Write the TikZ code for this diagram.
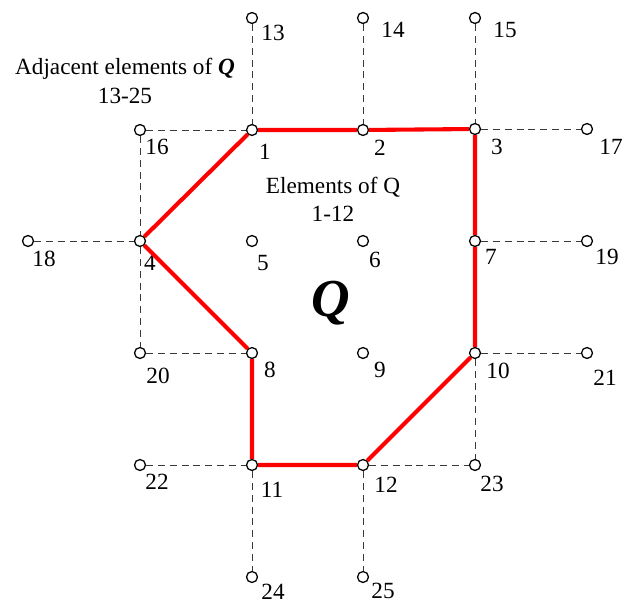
\documentclass[tikz,border=0pt]{standalone}
\usepackage{fontspec}
\setmainfont{Liberation Serif}
\definecolor{bndred}{HTML}{FF0000}
\definecolor{adjedge}{HTML}{3A3A3A}

\begin{document}
\begin{tikzpicture}[x=0.025cm, y=-0.025cm,
  elem/.style={circle, draw=black, line width=0.9pt, fill=white, inner sep=0pt,
               minimum size=7.8pt},
  num/.style={font=\fontsize{16.5}{18}\selectfont, inner sep=0pt},
  txt/.style={font=\fontsize{16.5}{20}\selectfont, align=center, inner sep=0pt},
  bnd/.style={draw=bndred, line width=2.9pt},
  adj/.style={draw=adjedge, line width=0.65pt, dash pattern=on 5pt off 3.4pt},
]
\useasboundingbox (0,0) rectangle (636,604);
% elements of Q (1-12)
\node[elem] (n1)  at (252,130) {};
\node[elem] (n2)  at (363,130) {};
\node[elem] (n3)  at (475,129) {};
\node[elem] (n4)  at (140,241) {};
\node[elem] (n5)  at (252,241) {};
\node[elem] (n6)  at (363,241) {};
\node[elem] (n7)  at (475,241) {};
\node[elem] (n8)  at (252,353) {};
\node[elem] (n9)  at (363,353) {};
\node[elem] (n10) at (475,353) {};
\node[elem] (n11) at (252,465) {};
\node[elem] (n12) at (363,465) {};
% adjacent elements of Q (13-25)
\node[elem] (n13) at (252,18)  {};
\node[elem] (n14) at (363,18)  {};
\node[elem] (n15) at (475,18)  {};
\node[elem] (n16) at (140,130) {};
\node[elem] (n17) at (587,129) {};
\node[elem] (n18) at (28,241)  {};
\node[elem] (n19) at (587,241) {};
\node[elem] (n20) at (140,353) {};
\node[elem] (n21) at (587,353) {};
\node[elem] (n22) at (140,465) {};
\node[elem] (n23) at (475,465) {};
\node[elem] (n24) at (252,577) {};
\node[elem] (n25) at (363,577) {};
% numbers
\node[num] (l1)  at (265,152) {1};
\node[num] (l2)  at (380,148) {2};
\node[num] (l3)  at (497,147) {3};
\node[num] (l4)  at (150,263) {4};
\node[num] (l5)  at (263,263) {5};
\node[num] (l6)  at (375,260) {6};
\node[num] (l7)  at (491,257) {7};
\node[num] (l8)  at (270,370) {8};
\node[num] (l9)  at (380,370) {9};
\node[num] (l10) at (498,371) {10};
\node[num] (l11) at (272,490) {11};
\node[num] (l12) at (386,485) {12};
\node[num] (l13) at (273,33)  {13};
\node[num] (l14) at (393,30)  {14};
\node[num] (l15) at (505,30)  {15};
\node[num] (l16) at (157,147) {16};
\node[num] (l17) at (611,147) {17};
\node[num] (l18) at (44,259)  {18};
\node[num] (l19) at (607,257) {19};
\node[num] (l20) at (158,376) {20};
\node[num] (l21) at (605,378) {21};
\node[num] (l22) at (157,482) {22};
\node[num] (l23) at (492,484) {23};
\node[num] (l24) at (273,592) {24};
\node[num] (l25) at (383,591) {25};
% captions
\node[txt] (adjcap) at (125,81) {Adjacent elements of \textbf{\textit{Q}}\\13-25};
\node[txt] (elecap) at (333,199) {Elements of Q\\1-12};
\node[font=\fontsize{38}{40}\selectfont\bfseries\itshape, inner sep=0pt] (bigq) at (331,303) {Q};
% adjacent links
\draw[adj] (n13) -- (n1);
\draw[adj] (n14) -- (n2);
\draw[adj] (n15) -- (n3);
\draw[adj] (n16) -- (n1);
\draw[adj] (n3) -- (n17);
\draw[adj] (n16) -- (n4);
\draw[adj] (n18) -- (n4);
\draw[adj] (n7) -- (n19);
\draw[adj] (n4) -- (n20);
\draw[adj] (n20) -- (n8);
\draw[adj] (n10) -- (n21);
\draw[adj] (n10) -- (n23);
\draw[adj] (n22) -- (n11);
\draw[adj] (n12) -- (n23);
\draw[adj] (n11) -- (n24);
\draw[adj] (n12) -- (n25);
% boundary of Q
\draw[bnd] (n1) -- (n2) -- (n3) -- (n7) -- (n10) -- (n12) -- (n11) -- (n8) -- (n4) -- (n1);
\end{tikzpicture}
\end{document}
